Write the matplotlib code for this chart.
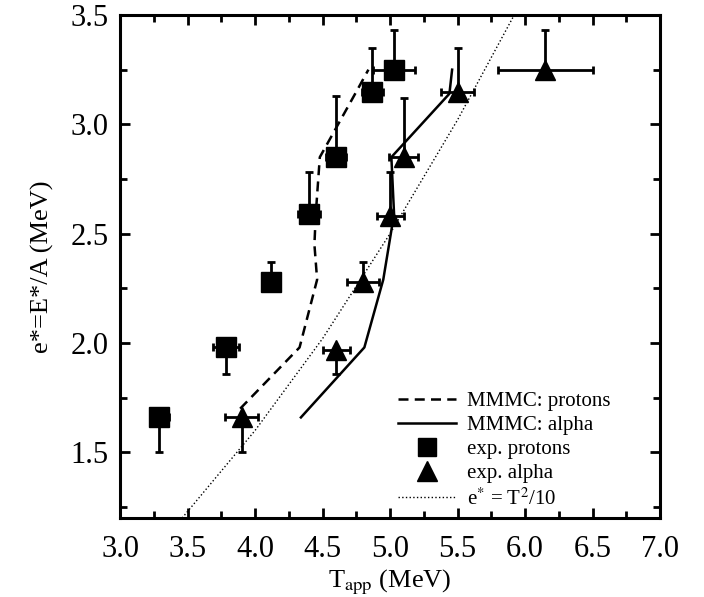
import numpy as np
import matplotlib
matplotlib.use("Agg")
import matplotlib.pyplot as plt
from matplotlib.ticker import MultipleLocator
from matplotlib.lines import Line2D

plt.rcParams['font.family'] = ['Liberation Serif', 'DejaVu Serif']
plt.rcParams['mathtext.fontset'] = 'stix'

# exp. protons
tp = np.array([3.29, 3.785, 4.12, 4.40, 4.60, 4.87, 5.03])
ep = np.array([1.66, 1.98, 2.28, 2.59, 2.85, 3.15, 3.25])
tp_err = np.array([0.07, 0.10, 0.05, 0.08, 0.075, 0.08, 0.155])
ep_err_lo = np.array([0.16, 0.12, 0.0, 0.0, 0.0, 0.0, 0.0])
ep_err_hi = np.array([0.0, 0.0, 0.09, 0.19, 0.28, 0.20, 0.18])

# exp. alpha
ta = np.array([3.90, 4.60, 4.80, 5.00, 5.10, 5.50, 6.15])
ea = np.array([1.66, 1.97, 2.28, 2.58, 2.85, 3.15, 3.25])
ta_err = np.array([0.12, 0.10, 0.12, 0.10, 0.105, 0.12, 0.35])
ea_err_lo = np.array([0.16, 0.11, 0.0, 0.0, 0.0, 0.0, 0.0])
ea_err_hi = np.array([0.0, 0.0, 0.09, 0.20, 0.27, 0.20, 0.18])

# MMMC curves
mp_t = [3.89, 4.33, 4.46, 4.44, 4.45, 4.48, 4.76, 4.84]
mp_e = [1.70, 1.98, 2.29, 2.45, 2.59, 2.85, 3.16, 3.25]
ma_t = [4.34, 4.81, 4.95, 5.03, 5.01, 5.44, 5.46]
ma_e = [1.66, 1.98, 2.29, 2.59, 2.85, 3.14, 3.25]

# e* = T^2/10
dt = [3.46, 4.0, 4.5, 5.0, 5.5, 5.92]
de = [1.20, 1.60, 2.02, 2.50, 3.02, 3.50]

fig = plt.figure(figsize=(7.04, 5.97), dpi=100)
ax = fig.add_axes([0.1705, 0.1323, 0.767, 0.8426])

ax.plot(mp_t, mp_e, 'k--', lw=1.8, dashes=(4, 2.5))
ax.plot(ma_t, ma_e, 'k-', lw=1.8)
ax.errorbar(tp, ep, xerr=tp_err, yerr=[ep_err_lo, ep_err_hi], fmt='ks', ms=14,
            ecolor='k', elinewidth=2, capsize=3, capthick=2)
ax.errorbar(ta, ea, xerr=ta_err, yerr=[ea_err_lo, ea_err_hi], fmt='k^', ms=15,
            ecolor='k', elinewidth=2, capsize=3, capthick=2)
ax.plot(dt, de, 'k:', lw=1.0)

ax.set_xlim(3.0, 7.0)
ax.set_ylim(1.2, 3.5)
ax.xaxis.set_major_locator(MultipleLocator(0.5))
ax.xaxis.set_minor_locator(MultipleLocator(0.25))
ax.yaxis.set_major_locator(MultipleLocator(0.5))
ax.yaxis.set_minor_locator(MultipleLocator(0.25))
ax.xaxis.set_major_formatter(plt.FormatStrFormatter('%.1f'))
ax.yaxis.set_major_formatter(plt.FormatStrFormatter('%.1f'))
ax.tick_params(which='both', direction='in', top=True, right=True, width=2)
ax.tick_params(which='major', length=7, labelsize=22, pad=8)
ax.tick_params(axis='x', which='major', pad=12)
ax.tick_params(which='minor', length=5)
for s in ax.spines.values():
    s.set_linewidth(2.2)

ax.set_xlabel(r"T$_{\rm app}$ (MeV)", fontsize=19, labelpad=3)
ax.set_ylabel("e*=E*/A (MeV)", fontsize=19, labelpad=12)

handles = [
    Line2D([], [], color='k', ls='--', lw=1.8, dashes=(4, 2.5)),
    Line2D([], [], color='k', ls='-', lw=1.8),
    Line2D([], [], color='k', ls='none', marker='s', ms=13),
    Line2D([], [], color='k', ls='none', marker='^', ms=14),
    Line2D([], [], color='k', ls=':', lw=1.0),
]
labels = ["MMMC: protons", "MMMC: alpha", "exp. protons", "exp. alpha",
          r"e$^{*}$ = T$^{2}$/10"]
ax.legend(handles, labels, loc='lower left', bbox_to_anchor=(0.48, -0.02),
          frameon=False, fontsize=15, handlelength=2.8, labelspacing=0.22,
          handletextpad=0.5)

plt.savefig("out.png", dpi=100)
